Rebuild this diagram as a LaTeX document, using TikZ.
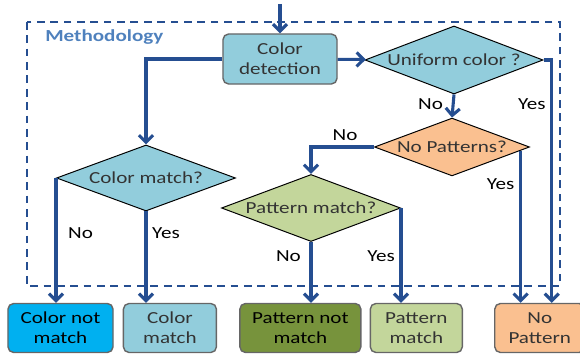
\documentclass[tikz,border=0pt]{standalone}
\usepackage{fontspec}
\setmainfont{Carlito}[FakeStretch=1.25]
\usetikzlibrary{shapes.geometric, arrows.meta, positioning, calc}

\definecolor{flowblue}{RGB}{37,78,145}
\definecolor{methblue}{RGB}{79,129,189}
\definecolor{aqua}{RGB}{146,205,220}
\definecolor{cyanbox}{RGB}{0,176,240}
\definecolor{olivebox}{RGB}{119,147,60}
\definecolor{greenbox}{RGB}{195,214,155}
\definecolor{peach}{RGB}{250,192,144}

\begin{document}
\begin{tikzpicture}[x=0.025cm, y=-0.025cm, font=\fontsize{12}{14}\selectfont]
% Styles
\tikzstyle{process} = [rectangle, rounded corners=4pt, minimum width=2.85cm, minimum height=1.25cm, text centered, draw=black!60, line width=1pt, fill=aqua, align=center, inner sep=2pt, text=black!80]
\tikzstyle{result} = [process, minimum height=1.225cm]
\tikzstyle{decision} = [diamond, aspect=2.6, text centered, draw=black, line width=0.7pt, align=center, inner sep=1pt, text=black!80]
\tikzstyle{arrow} = [line width=2.2pt, draw=flowblue, -{Straight Barb[length=5pt,width=10pt]}]
\tikzstyle{frame} = [draw=flowblue, line width=1.5pt, dash pattern=on 5.5pt off 4pt]

\useasboundingbox (0,0) rectangle (580,359);

% Frame
\draw [frame] (27,22) rectangle (560,286);
\node (methodology) [anchor=west, inner sep=0pt, text=methblue, font=\fontsize{12}{14}\selectfont\bfseries] at (45,37) {Methodology};

% Nodes
\coordinate (input) at (280,4);
\node (detection) [process] at (280,59) {Color\\detection};
\node (uniform) [decision, fill=aqua, minimum width=4.45cm, minimum height=1.7cm] at (454,60) {Uniform color ?};
\node (no_patterns) [decision, fill=peach, minimum width=3.875cm, minimum height=1.375cm] at (452,147) {No Patterns?};
\node (color_match) [decision, fill=aqua, minimum width=4.475cm, minimum height=1.65cm] at (146,178) {Color match?};
\node (pattern_match) [decision, fill=greenbox, minimum width=4.475cm, minimum height=1.675cm] at (311,208) {Pattern match?};

\node (color_not) [result, fill=cyanbox, minimum width=2.625cm, text=black] at (60.5,328) {Color not\\match};
\node (color_yes) [result, right=0.225cm of color_not, minimum width=2.325cm] {Color\\match};
\node (pattern_not) [result, fill=olivebox, right=0.55cm of color_yes, minimum width=3.025cm, text=black] {Pattern not\\match};
\node (pattern_yes) [result, fill=greenbox, right=0.2cm of pattern_not, minimum width=2.3cm] {Pattern\\match};
\node (no_pattern) [result, fill=peach, right=0.775cm of pattern_yes, minimum width=2.25cm] {No\\Pattern};

% Arrows
\draw [arrow] (input) -- (detection);
\draw [arrow] (detection) -- (uniform);
\draw [arrow] (detection.west) -| (color_match.north);
\draw [arrow] (uniform.south) -- node[left=0.1cm, pos=0.4] {No} (no_patterns.north);
\draw [arrow] (uniform.east) -| node[left, pos=0.59] {Yes} ($(no_pattern.north)+(12,0)$);
\coordinate (np_yes) at ($(no_patterns.east)!0.12!(no_patterns.south)$);
\draw [arrow] (np_yes) -- node[left, pos=0.22] {Yes} (np_yes |- no_pattern.north);
\draw [arrow] (no_patterns.west) -| node[above, pos=0.23] {No} (pattern_match.north);
\draw [arrow] (color_match.west) -- node[right=0.15cm, pos=0.44] {No} (color_match.west |- color_not.north);
\draw [arrow] (color_match.south) -- node[right, pos=0.24] {Yes} (color_match.south |- color_yes.north);
\draw [arrow] (pattern_match.south) -- node[left=0.1cm, pos=0.24] {No} (pattern_match.south |- pattern_not.north);
\draw [arrow] (pattern_match.east) -- node[left, pos=0.51] {Yes} (pattern_match.east |- pattern_yes.north);
\end{tikzpicture}
\end{document}
